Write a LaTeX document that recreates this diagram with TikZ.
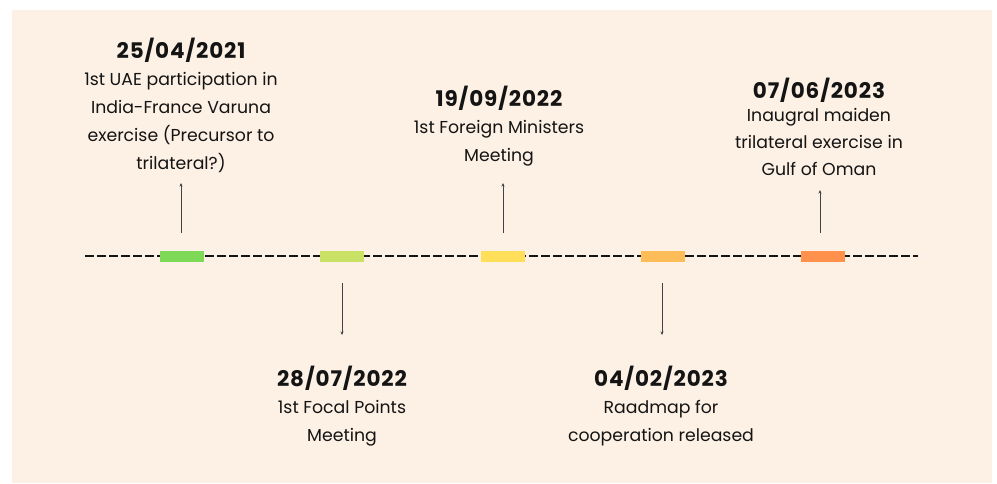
\documentclass[tikz,border=0pt]{standalone}
\usepackage{fontspec}
\setmainfont{Poppins}
\usetikzlibrary{arrows.meta}
\definecolor{cream}{HTML}{FDF0E4}
\definecolor{cA}{HTML}{7ED957}
\definecolor{cB}{HTML}{C9E265}
\definecolor{cC}{HTML}{FFDE59}
\definecolor{cD}{HTML}{FFBD59}
\definecolor{cE}{HTML}{FF914D}
\definecolor{ink}{HTML}{141414}
\begin{document}
\begin{tikzpicture}[x=1pt,y=-1pt,
  bar/.style={fill=#1,draw=none,minimum width=44pt,minimum height=11pt,inner sep=0pt},
  datetxt/.style={font=\fontsize{21.5}{24}\selectfont\bfseries\addfontfeature{LetterSpace=4},text=ink,inner sep=0pt},
  bodytxt/.style={font=\fontsize{17.3}{28}\selectfont,text=ink,align=center,inner sep=0pt},
  arr/.style={draw=ink!80,line width=0.8pt,-{Stealth[length=3.5pt,width=3pt]}},
  tline/.style={draw=ink,line width=1.6pt,dash pattern=on 9pt off 3pt}]
\useasboundingbox (0,0) rectangle (997,483);
\fill[white] (0,0) rectangle (997,483);
\fill[cream] (12,10) rectangle (992,483);
% timeline
\coordinate (ls) at (85,256);
\coordinate (le) at (918,256);
\draw[tline] (ls) -- (le);
\node[bar=cA] (b1) at (182,256) {};
\node[bar=cB] (b2) at (342,256) {};
\node[bar=cC] (b3) at (503,256) {};
\node[bar=cD] (b4) at (663,256) {};
\node[bar=cE] (b5) at (823,256) {};
% event 1
\node[datetxt] (d1) at (181,50) {25/04/2021};
\node[bodytxt,anchor=north] (t1) at (181,72) {1st UAE participation in\\India-France Varuna\\exercise (Precursor to\\trilateral?)};
\coordinate (a1s) at (181,233);
\coordinate (a1e) at (181,183);
\draw[arr] (a1s) -- (a1e);
% event 2
\node[datetxt] (d2) at (342,378) {28/07/2022};
\node[bodytxt,anchor=north] (t2) at (342,400) {1st Focal Points\\Meeting};
\coordinate (a2s) at (342,283);
\coordinate (a2e) at (342,335);
\draw[arr] (a2s) -- (a2e);
% event 3
\node[datetxt] (d3) at (499,98) {19/09/2022};
\node[bodytxt,anchor=north] (t3) at (499,120) {1st Foreign Ministers\\Meeting};
\coordinate (a3s) at (503,233);
\coordinate (a3e) at (503,183);
\draw[arr] (a3s) -- (a3e);
% event 4
\node[datetxt] (d4) at (661,378) {04/02/2023};
\node[bodytxt,anchor=north] (t4) at (661,400) {Raadmap for\\cooperation released};
\coordinate (a4s) at (662,283);
\coordinate (a4e) at (662,335);
\draw[arr] (a4s) -- (a4e);
% event 5
\node[datetxt] (d5) at (819,90) {07/06/2023};
\node[bodytxt,anchor=north,font=\fontsize{17.3}{27}\selectfont] (t5) at (819,108) {Inaugral maiden\\trilateral exercise in\\Gulf of Oman};
\coordinate (a5s) at (820,233);
\coordinate (a5e) at (820,190);
\draw[arr] (a5s) -- (a5e);
\end{tikzpicture}
\end{document}
